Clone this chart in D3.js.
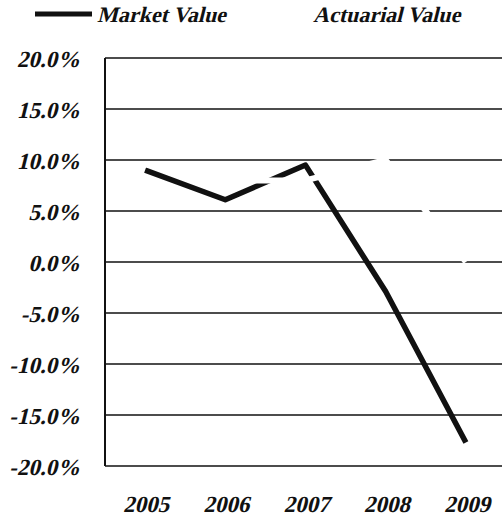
<!DOCTYPE html>
<html>
<head>
<meta charset="utf-8">
<script src="https://cdn.jsdelivr.net/npm/d3@7"></script>
<style>
  body { margin: 0; background: #fff; }
</style>
</head>
<body>
<div id="chart"></div>
<script>
// values (percent)
var years = ["2005", "2006", "2007", "2008", "2009"];
var marketValue = [9.0, 6.1, 9.5, -2.9, -17.7];
var actuarialValue = [9.6, 8.0, 8.0, 10.0, 0.0];
var yTicks = [20, 15, 10, 5, 0, -5, -10, -15, -20];
var seriesNames = ["Market Value", "Actuarial Value"];
var seriesColors = ["#111", "#fff"];

var width = 502, height = 516;
var margin = {top: 58, right: -4, bottom: 50, left: 105};

var svg = d3.select("#chart").append("svg")
    .attr("width", width)
    .attr("height", height);

var x = d3.scaleBand()
    .domain(years)
    .range([margin.left, width - margin.right]);

var y = d3.scaleLinear()
    .domain([-20, 20])
    .range([height - margin.bottom, margin.top]);

// serif italic is not installed, so slant the upright face
function slanted(g, tx, ty, size) {
  return g.append("text")
    .attr("transform", "translate(" + tx + "," + ty + ") skewX(-14)")
    .style("font-family", "'Liberation Serif'")
    .style("font-weight", "bold")
    .style("font-size", size + "px")
    .attr("fill", "#111");
}

// gridlines
svg.append("g").selectAll("line")
    .data(yTicks)
  .enter().append("line")
    .attr("x1", margin.left)
    .attr("x2", width - margin.right)
    .attr("y1", function(d) { return y(d); })
    .attr("y2", function(d) { return y(d); })
    .style("stroke", "#111")
    .style("stroke-width", 1.5);

// left axis line
svg.append("line")
    .attr("x1", margin.left).attr("x2", margin.left)
    .attr("y1", y(20)).attr("y2", y(-20))
    .style("stroke", "#111")
    .style("stroke-width", 2);

// y tick labels
var yLab = svg.append("g");
yTicks.forEach(function(d) {
  slanted(yLab, 80, y(d) + 9, 23)
    .attr("text-anchor", "end")
    .text(d.toFixed(1) + "%");
});

// x labels
var xLab = svg.append("g");
years.forEach(function(d) {
  slanted(xLab, x(d) + x.bandwidth() / 2 + 1, 512, 23)
    .attr("text-anchor", "middle")
    .text(d);
});

var line = d3.line()
    .x(function(d, i) { return x(years[i]) + x.bandwidth() / 2; })
    .y(function(d) { return y(d); });

var allSeries = [marketValue, actuarialValue];
var widths = [5.5, 6];

allSeries.forEach(function(s, i) {
  svg.append("path")
    .datum(s)
    .attr("d", line)
    .style("fill", "none")
    .style("stroke", seriesColors[i])
    .style("stroke-width", widths[i])
    .style("stroke-linejoin", "round");
});

// legend
var legendX = [35, 255];
var legendTextX = [97, 313];
var leg = svg.append("g");
seriesNames.forEach(function(name, i) {
  leg.append("line")
    .attr("x1", legendX[i]).attr("x2", legendX[i] + 57)
    .attr("y1", 14).attr("y2", 14)
    .style("stroke", seriesColors[i])
    .style("stroke-width", 5);
  slanted(leg, legendTextX[i], 22, 22)
    .text(name);
});
</script>
</body>
</html>
